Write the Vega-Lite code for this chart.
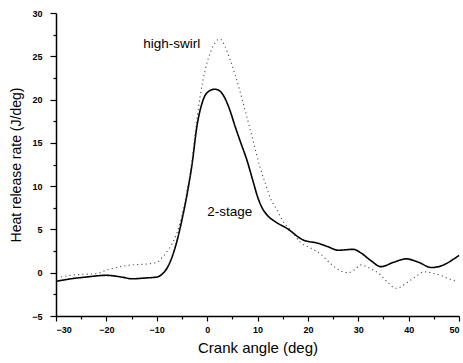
{
  "$schema": "https://vega.github.io/schema/vega-lite/v6.json",
  "width": 403,
  "height": 303,
  "autosize": {"type": "none"},
  "padding": {"left": 56, "top": 13, "right": 4, "bottom": 47},
  "background": "white",
  "config": {
    "view": {"stroke": null},
    "font": "Liberation Sans",
    "axis": {
      "domainColor": "black",
      "domainWidth": 1.5,
      "tickColor": "black",
      "tickWidth": 1.2,
      "grid": false,
      "labelFont": "Liberation Sans",
      "labelFontWeight": "bold",
      "labelFontSize": 9,
      "labelColor": "black",
      "titleFont": "Liberation Sans",
      "titleFontWeight": "normal",
      "titleColor": "black"
    }
  },
  "datasets": {
    "curves": [
      {"angle": -30, "hrr": -1.0, "series": "2-stage"},
      {"angle": -27, "hrr": -0.7, "series": "2-stage"},
      {"angle": -24, "hrr": -0.5, "series": "2-stage"},
      {"angle": -20, "hrr": -0.3, "series": "2-stage"},
      {"angle": -17, "hrr": -0.5, "series": "2-stage"},
      {"angle": -15, "hrr": -0.7, "series": "2-stage"},
      {"angle": -12, "hrr": -0.6, "series": "2-stage"},
      {"angle": -10, "hrr": -0.5, "series": "2-stage"},
      {"angle": -9, "hrr": -0.2, "series": "2-stage"},
      {"angle": -7.7, "hrr": 0.8, "series": "2-stage"},
      {"angle": -6.3, "hrr": 3.0, "series": "2-stage"},
      {"angle": -5, "hrr": 6.1, "series": "2-stage"},
      {"angle": -4, "hrr": 9.0, "series": "2-stage"},
      {"angle": -3, "hrr": 12.5, "series": "2-stage"},
      {"angle": -2, "hrr": 17.0, "series": "2-stage"},
      {"angle": -1, "hrr": 19.6, "series": "2-stage"},
      {"angle": 0, "hrr": 20.8, "series": "2-stage"},
      {"angle": 1.5, "hrr": 21.2, "series": "2-stage"},
      {"angle": 2.5, "hrr": 21.0, "series": "2-stage"},
      {"angle": 3.5, "hrr": 20.2, "series": "2-stage"},
      {"angle": 4.5, "hrr": 18.8, "series": "2-stage"},
      {"angle": 5.5, "hrr": 17.0, "series": "2-stage"},
      {"angle": 6.5, "hrr": 15.3, "series": "2-stage"},
      {"angle": 7.9, "hrr": 13.0, "series": "2-stage"},
      {"angle": 9.1, "hrr": 10.6, "series": "2-stage"},
      {"angle": 10, "hrr": 8.8, "series": "2-stage"},
      {"angle": 11, "hrr": 7.4, "series": "2-stage"},
      {"angle": 12, "hrr": 6.6, "series": "2-stage"},
      {"angle": 13.5, "hrr": 5.9, "series": "2-stage"},
      {"angle": 15.9, "hrr": 5.1, "series": "2-stage"},
      {"angle": 19, "hrr": 3.8, "series": "2-stage"},
      {"angle": 22, "hrr": 3.4, "series": "2-stage"},
      {"angle": 24, "hrr": 3.0, "series": "2-stage"},
      {"angle": 26, "hrr": 2.6, "series": "2-stage"},
      {"angle": 29, "hrr": 2.7, "series": "2-stage"},
      {"angle": 30.5, "hrr": 2.3, "series": "2-stage"},
      {"angle": 32.5, "hrr": 1.4, "series": "2-stage"},
      {"angle": 34.5, "hrr": 0.7, "series": "2-stage"},
      {"angle": 37, "hrr": 1.2, "series": "2-stage"},
      {"angle": 39.5, "hrr": 1.6, "series": "2-stage"},
      {"angle": 42, "hrr": 1.2, "series": "2-stage"},
      {"angle": 44.5, "hrr": 0.6, "series": "2-stage"},
      {"angle": 46.5, "hrr": 0.8, "series": "2-stage"},
      {"angle": 49, "hrr": 1.6, "series": "2-stage"},
      {"angle": 50, "hrr": 2.0, "series": "2-stage"},
      {"angle": -29, "hrr": -0.5, "series": "high-swirl"},
      {"angle": -27, "hrr": -0.3, "series": "high-swirl"},
      {"angle": -25, "hrr": -0.2, "series": "high-swirl"},
      {"angle": -22, "hrr": -0.1, "series": "high-swirl"},
      {"angle": -20, "hrr": 0.3, "series": "high-swirl"},
      {"angle": -18, "hrr": 0.6, "series": "high-swirl"},
      {"angle": -15, "hrr": 0.9, "series": "high-swirl"},
      {"angle": -12, "hrr": 1.0, "series": "high-swirl"},
      {"angle": -10, "hrr": 1.2, "series": "high-swirl"},
      {"angle": -9, "hrr": 1.7, "series": "high-swirl"},
      {"angle": -8, "hrr": 2.4, "series": "high-swirl"},
      {"angle": -7, "hrr": 3.3, "series": "high-swirl"},
      {"angle": -6, "hrr": 4.6, "series": "high-swirl"},
      {"angle": -5, "hrr": 6.6, "series": "high-swirl"},
      {"angle": -4, "hrr": 9.5, "series": "high-swirl"},
      {"angle": -3, "hrr": 13.0, "series": "high-swirl"},
      {"angle": -2.4, "hrr": 16.0, "series": "high-swirl"},
      {"angle": -1.4, "hrr": 20.3, "series": "high-swirl"},
      {"angle": -0.4, "hrr": 23.4, "series": "high-swirl"},
      {"angle": 0.5, "hrr": 25.2, "series": "high-swirl"},
      {"angle": 1.5, "hrr": 26.5, "series": "high-swirl"},
      {"angle": 2.5, "hrr": 27.0, "series": "high-swirl"},
      {"angle": 3.5, "hrr": 26.2, "series": "high-swirl"},
      {"angle": 4.5, "hrr": 24.7, "series": "high-swirl"},
      {"angle": 5.5, "hrr": 23.0, "series": "high-swirl"},
      {"angle": 6.5, "hrr": 21.0, "series": "high-swirl"},
      {"angle": 7.8, "hrr": 18.2, "series": "high-swirl"},
      {"angle": 9.1, "hrr": 15.3, "series": "high-swirl"},
      {"angle": 10.5, "hrr": 12.2, "series": "high-swirl"},
      {"angle": 11.5, "hrr": 10.4, "series": "high-swirl"},
      {"angle": 12.5, "hrr": 8.7, "series": "high-swirl"},
      {"angle": 13.9, "hrr": 7.2, "series": "high-swirl"},
      {"angle": 14.9, "hrr": 6.1, "series": "high-swirl"},
      {"angle": 16.9, "hrr": 4.7, "series": "high-swirl"},
      {"angle": 18.5, "hrr": 3.5, "series": "high-swirl"},
      {"angle": 20.4, "hrr": 2.9, "series": "high-swirl"},
      {"angle": 22.4, "hrr": 2.2, "series": "high-swirl"},
      {"angle": 24.8, "hrr": 0.9, "series": "high-swirl"},
      {"angle": 26.5, "hrr": 0.2, "series": "high-swirl"},
      {"angle": 28, "hrr": 0.0, "series": "high-swirl"},
      {"angle": 29.4, "hrr": 0.4, "series": "high-swirl"},
      {"angle": 30.5, "hrr": 0.9, "series": "high-swirl"},
      {"angle": 32, "hrr": 0.6, "series": "high-swirl"},
      {"angle": 34.5, "hrr": -0.3, "series": "high-swirl"},
      {"angle": 36, "hrr": -1.2, "series": "high-swirl"},
      {"angle": 37.5, "hrr": -1.8, "series": "high-swirl"},
      {"angle": 39.8, "hrr": -1.1, "series": "high-swirl"},
      {"angle": 41.5, "hrr": -0.4, "series": "high-swirl"},
      {"angle": 43, "hrr": 0.1, "series": "high-swirl"},
      {"angle": 44.5, "hrr": 0.0, "series": "high-swirl"},
      {"angle": 46.3, "hrr": -0.3, "series": "high-swirl"},
      {"angle": 48, "hrr": -0.7, "series": "high-swirl"},
      {"angle": 49.6, "hrr": -1.0, "series": "high-swirl"}
    ],
    "labels": [
      {"angle": -12.7, "hrr": 26.4, "text": "high-swirl"},
      {"angle": 0, "hrr": 7.0, "text": "2-stage"}
    ]
  },
  "layer": [
    {
      "data": {"name": "curves"},
      "mark": {"type": "line", "interpolate": "monotone"},
      "encoding": {
        "x": {
          "field": "angle", "type": "quantitative",
          "scale": {"domain": [-30, 50], "nice": false, "zero": false},
          "axis": {"values": [-30, -20, -10, 0, 10, 20, 30, 40, 50], "tickSize": 5, "labelPadding": 4, "title": "Crank angle (deg)", "titleFontSize": 15, "titlePadding": 6}
        },
        "y": {
          "field": "hrr", "type": "quantitative",
          "scale": {"domain": [-5, 30], "nice": false, "zero": false},
          "axis": {"values": [-5, 0, 5, 10, 15, 20, 25, 30], "tickSize": 6, "labelPadding": 8, "title": "Heat release rate (J/deg)", "titleFontSize": 14, "titlePadding": 8}
        },
        "color": {"field": "series", "type": "nominal", "scale": {"domain": ["2-stage", "high-swirl"], "range": ["#000000", "#444444"]}, "legend": null},
        "strokeDash": {"field": "series", "type": "nominal", "scale": {"domain": ["2-stage", "high-swirl"], "range": [[1, 0], [1.1, 3.2]]}, "legend": null},
        "strokeWidth": {"field": "series", "type": "nominal", "scale": {"domain": ["2-stage", "high-swirl"], "range": [1.6, 1.1]}, "legend": null}
      }
    },
    {
      "data": {"name": "labels"},
      "mark": {"type": "text", "align": "left", "baseline": "middle", "fontSize": 13.5, "font": "Liberation Sans", "color": "black"},
      "encoding": {
        "x": {"field": "angle", "type": "quantitative", "axis": {"values": [-25, -15, -5, 5, 15, 25, 35, 45], "labels": false, "tickSize": 3, "domain": false, "title": null, "orient": "bottom"}},
        "y": {"field": "hrr", "type": "quantitative", "axis": {"values": [-2.5, 2.5, 7.5, 12.5, 17.5, 22.5, 27.5], "labels": false, "tickSize": 3, "domain": false, "title": null, "orient": "left"}},
        "text": {"field": "text"}
      }
    }
  ],
  "resolve": {"axis": {"x": "independent", "y": "independent"}}
}
